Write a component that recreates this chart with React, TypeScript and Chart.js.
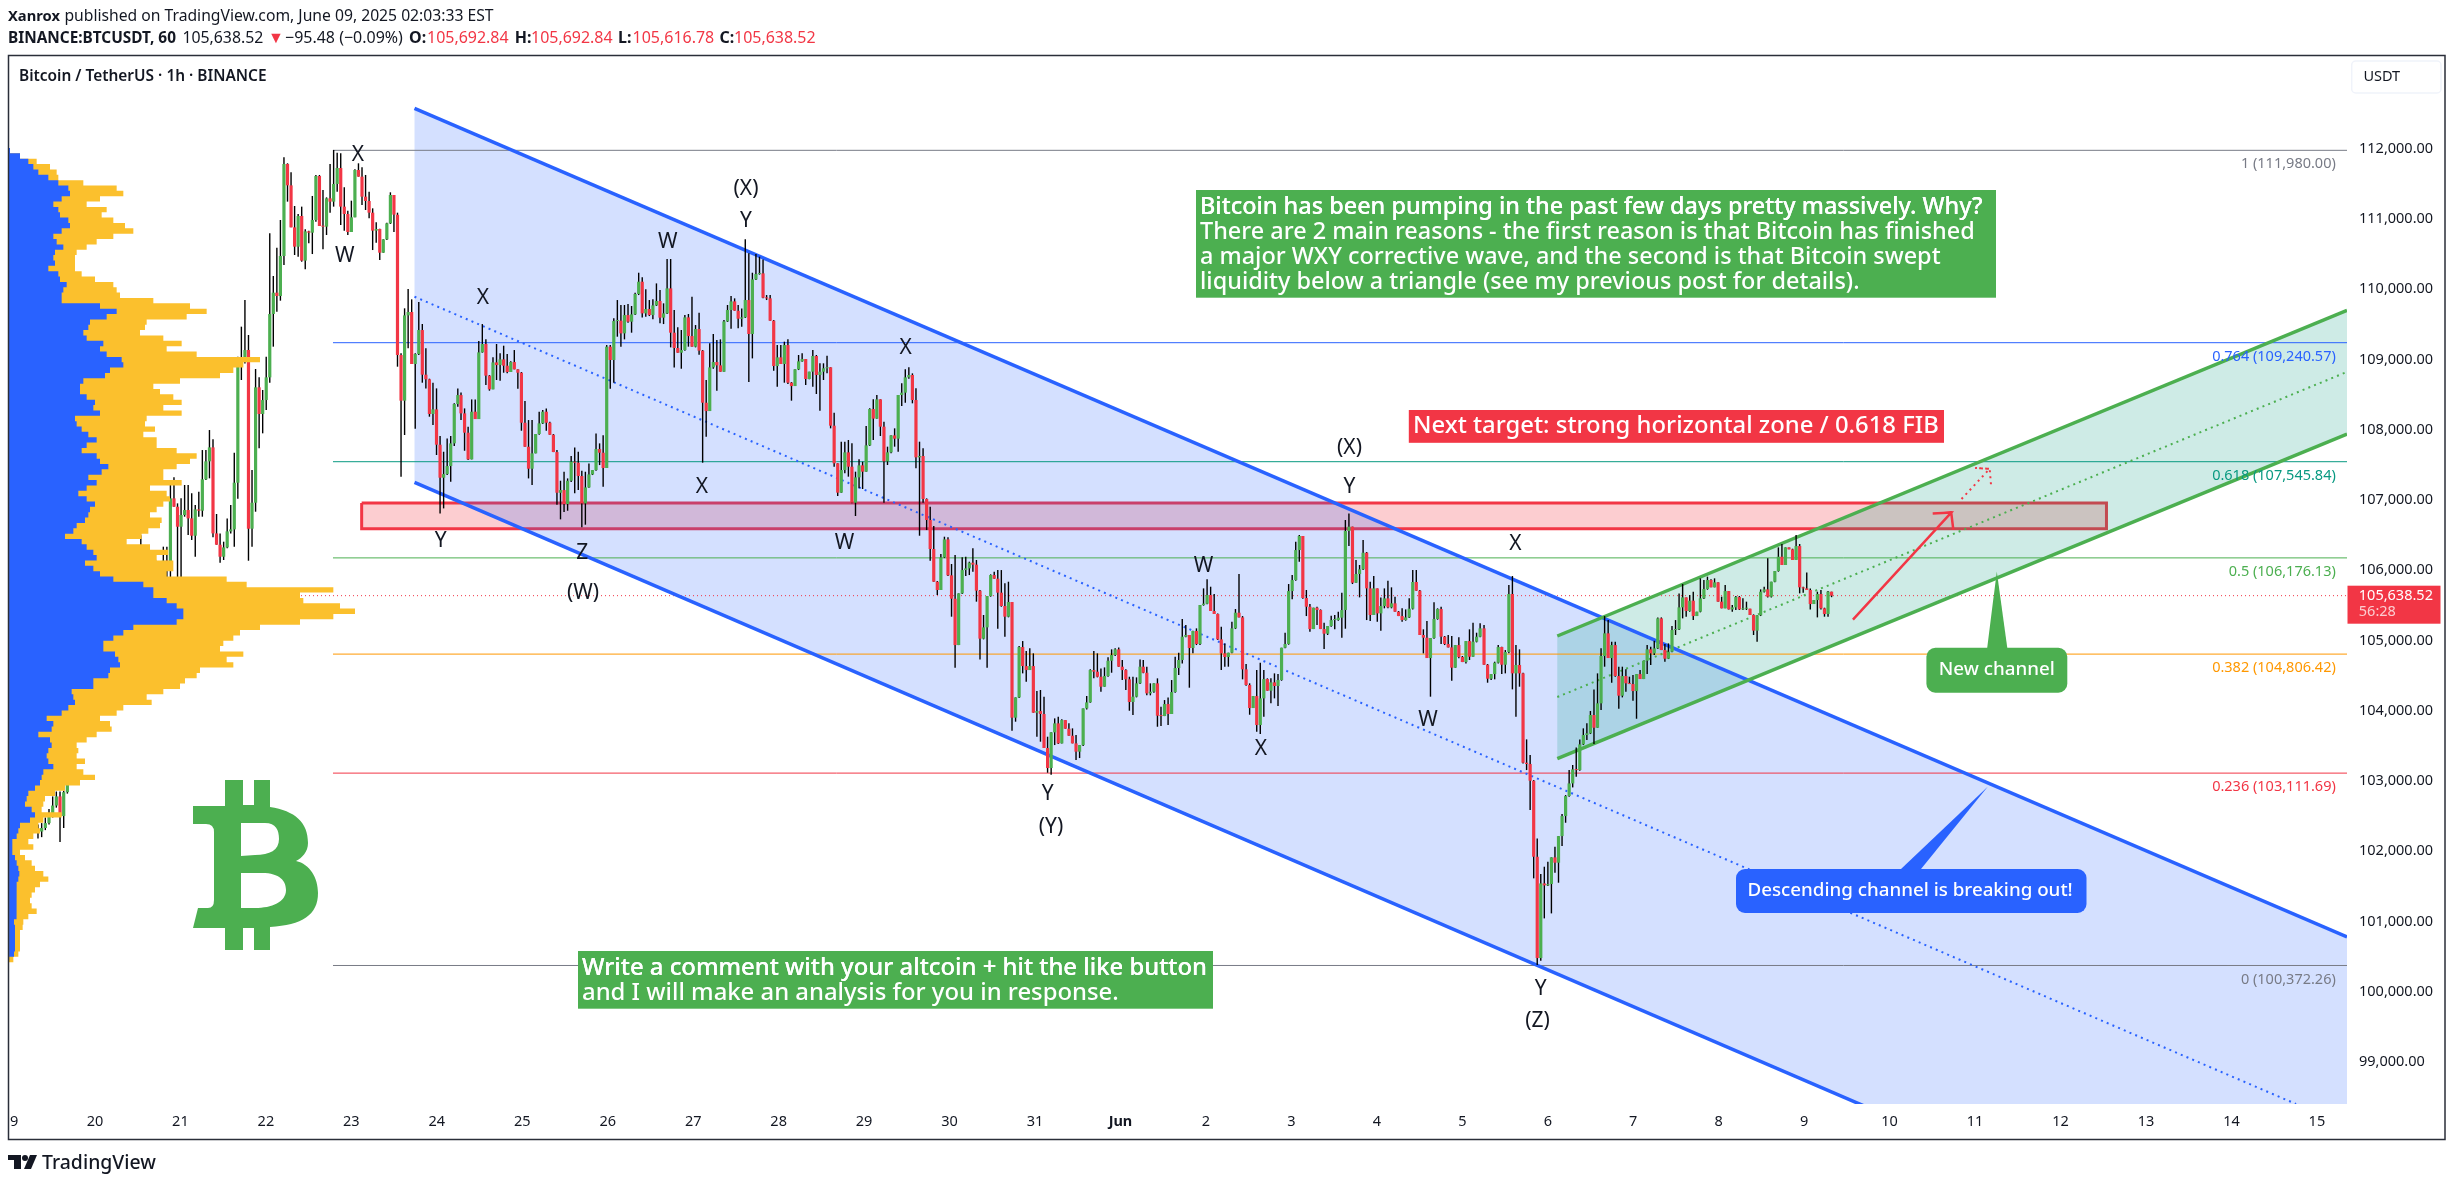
import React, { useEffect, useRef } from "react";
import { Chart, registerables } from "chart.js";

Chart.register(...registerables);

// ---------- candles (1h closes / highs / lows) ----------
const closesEarly = [102280,102330,102400,102500,102650,102780,102500,102840,103300,103800,104200,104500,104300,104800,105100,105300,105000,105400,105700,105500,105800,106000,105700,105500,105800,106100,105900,106100,106300,106000,105800,106000,105950];
const highsEarly = [102380,102400,102480,102600,102780,102850,102850,102860,103500,104000,104400,104700,104600,105000,105300,105500,105400,105600,105900,105800,106000,106200,106000,105800,106000,106300,106200,106300,106500,106350,106100,106200,106150];
const lowsEarly = [102180,102200,102300,102380,102480,102620,102130,102330,102820,103250,103700,104100,104100,104250,104750,105000,104900,104950,105350,105350,105450,105750,105550,105350,105450,105750,105750,105850,106050,105900,105650,105750,105800];

const closesA = [106136,105999,107024,106905,106620,106787,106858,106739,106492,106867,
106848,107295,107551,107750,106525,106364,106193,106326,106554,106582,
107247,109003,108965,109136,106592,106962,108605,108225,108424,108747,
109649,109953,109905,110475,111785,111481,110883,110608,111045,110409,
110826,110807,110988,111614,110902,110893,111296,111249,111500,111728,
111178,111073,110817,111026,111700,111605,111320,111258,111092,110836,
110860,110522,110712,110940,111344,111064,109065,108415,109630,109678,
108937,109079,109421,108785,108719,108225,108291,107788,107318,107370,
107484,107807,108367,108495];
const highsA = [106336,106336,107237,107323,106953,107024,107214,107214,107095,106929,
107119,107712,107712,107997,107864,106801,106525,106407,106739,106929,
107674,109041,109469,109848,109350,107427,108866,108747,108567,109041,
110798,110190,110594,110988,111880,111795,111667,111187,111073,111178,
110855,110836,111330,111629,111629,111415,111310,111785,111985,111947,
111937,111453,111121,111263,111709,111795,111738,111629,111391,111154,
110954,110864,110712,110950,111382,111344,111092,109089,109730,110005,
109858,109089,109820,109507,109160,108728,108671,108590,107912,107688,
107878,107912,108377,108590];
const lowsA = [105900,105900,105900,106905,105900,105900,106763,106502,106430,106193,
106763,106763,107285,107309,106469,106364,106108,106146,106312,106525,
106336,107019,108709,108946,106136,106336,106834,107736,107950,108282,
108671,109184,109682,109839,110347,111249,110883,110489,110466,110394,
110285,110655,110503,110964,110902,110570,110774,111092,111178,111391,
110916,110836,110774,110817,111026,111605,111201,111130,111011,110560,
110665,110418,110522,110703,110931,110817,108899,107332,107926,109160,
108937,108016,109065,108671,108590,108187,108068,107641,106810,106881,
107356,107261,107769,108329];

const closesB = [108234,107959,107579,108258,108153,109103,109222,108771,108576,108960,
108922,109003,108913,108823,108965,108861,108813,108101,107759,107446,
107665,107940,108092,108258,108101,107930,107683,107104,107142,106943,
107275,107546,107532,107342,106952,107180,107365,107427,107726,107674,
107456,109184,108994,109549,109554,109373,109634,109540,109644,109934,
110109,109658,109720,109634,109772,109834,109597,109658,110014,109383,
109165,109098,109136,109601,109335,109184,109435,109127,108386,108267,
108889,108965,108918,108827,109544,109706,109829,109696,109582,109601,
109848,109364,110142,110218,110228,109881,109872,109554,108908,109032,
108937,109207,108671,108623,108861,108975];
const highsB = [108533,108305,108044,108433,108433,109264,109506,109288,108780,109032,
109222,109089,109198,109079,108975,109136,108861,108823,108410,108139,
108139,107940,108258,108282,108305,108115,107940,107712,107275,107403,
107308,107627,107750,107688,107418,107403,107522,107427,107949,107807,
107921,109207,109207,109587,109848,109777,109777,109791,109763,109953,
110237,110171,110000,109848,109858,110085,109990,109801,110432,110432,
109706,109459,109421,109634,109649,109896,109492,109668,109136,108709,
109231,109364,109278,109288,109563,109777,109905,109872,109777,109729,
110712,110513,110237,110503,110465,110427,109919,109919,109563,109207,
109207,109255,109288,108680,108861,109065];
const lowsB = [108139,107702,107570,107584,108153,108153,109098,108638,108557,108581,
108709,108699,108813,108804,108823,108861,108585,107987,107759,107308,
107213,107665,107930,108082,107987,107930,107683,106933,106725,106829,
106848,107256,107095,107142,106611,106649,107176,107356,107418,107498,
107190,107456,108585,108671,109326,109184,109288,109525,109383,109634,
109919,109601,109611,109620,109573,109763,109516,109506,109649,109174,
108889,109098,108870,109127,109184,109184,109174,109070,107532,107902,
108267,108870,108557,108827,108827,109535,109440,109696,109445,109468,
109592,108680,109017,110133,110209,109872,109848,109554,108842,108614,
108937,108671,108652,108415,108623,108851];

const closesC = [109008,108724,108828,109051,108781,108828,108876,108890,108059,107523,
107105,107428,107679,107475,106962,107323,107494,107404,107779,108296,
108159,108434,108045,107551,107679,107921,107874,108496,108529,108747,
108781,108425,107608,107627,107015,106716,106303,105837,105719,106184,
106440,105928,105595,104935,105671,106003,106027,106108,106080,105709,
105026,105187,105633,105932,105880,105681,105491,105339,105548,103901,
104190,104907,104636,104579,104636,103972,103995,103953,103469,103184,
103692,103820,103535,103867,103744,103644,103535,103417,103511,104033,
104119,104579,104556,104484,104342,104494,104712,104793,104874,104627,
104579,104447,104124,104200,104390,104627];
const highsC = [109089,109008,108828,109137,109065,108947,108947,109056,108890,108244,
107523,107831,107831,107855,107807,107404,107580,107546,108054,108306,
108434,108496,108434,108116,107760,107921,108021,108496,108662,108861,
108890,108804,108591,107831,107736,107024,106906,106630,105847,106231,
106478,106469,106089,106217,105671,106184,106193,106122,106312,106146,
105719,105363,105633,105942,105980,106003,106003,105814,105837,105548,
104190,104921,104992,104850,104888,104817,104280,104295,104200,103630,
103692,103891,103915,103877,103867,103820,103749,103654,103511,104033,
104209,104589,104850,104817,104603,104617,104760,104874,104888,104902,
104722,104589,104484,104484,104475,104731];
const lowsC = [108970,108638,108719,108614,108510,108273,108709,108804,108021,107475,
107057,107105,107380,107333,106953,106773,107167,107157,107404,107769,
107855,108159,107912,106962,107499,107665,107760,107689,108339,108387,
108728,108377,107451,106492,106962,106573,106136,105837,105648,105719,
106174,105918,105339,104613,104935,105662,105918,105932,105980,105553,
104731,105016,104613,105624,105880,105168,105481,105054,105330,103716,
103844,104181,104532,104413,104579,103972,103630,103559,103469,103117,
103089,103511,103526,103535,103744,103644,103535,103298,103326,103497,
104019,104114,104461,104475,104271,104342,104484,104541,104779,104627,
104437,104295,104000,103939,104190,104380];

const closesD = [104541,104247,104271,104390,103929,103924,104095,103953,104266,104608,
104722,105054,105078,104893,105135,104950,105505,105524,105648,105420,
105377,105016,104817,104765,104826,105173,105396,105329,104589,104366,
104038,104209,103796,104176,104451,104285,104404,104352,104437,104897,
104950,105704,105861,106288,106488,105605,105481,105163,105467,105434,
105163,105097,105206,105291,105291,105325,105434,106559,106621,105823,
105947,106013,106250,105742,105363,105742,105386,105491,105600,105472,
105529,105410,105348,105291,105329,105453,105833,105709,105078,105040,
104750,105035,105306,105448,105054,104950,104902,104613,104935,104765,
104693,104992,104769,104983,105054,105173];
const highsD = [104722,104627,104390,104390,104461,104057,104152,104190,104437,104769,
104826,105306,105220,105078,105140,105173,105505,105742,105871,105766,
105662,105386,105197,104959,104826,105268,105448,105947,105348,104665,
104390,104209,104579,104684,104579,104461,104461,104532,104522,104897,
105111,105804,105932,106407,106502,106488,105719,105519,105467,105481,
105443,105254,105206,105353,105363,105410,105681,106716,106810,106621,
106146,106075,106431,106260,105837,105918,105742,105614,105742,105852,
105757,105624,105420,105458,105443,105600,106003,106003,105719,105159,
105277,105035,105543,105458,105481,105064,105078,105064,104935,105045,
104779,104992,105159,105254,105111,105244];
const lowsD = [104532,104219,104219,104257,103772,103782,103924,103796,103953,104257,
104508,104674,105045,104328,104817,104935,104935,105496,105515,105420,
105377,105007,104579,104627,104627,104817,105163,105329,104447,104356,
103943,104038,103701,103668,103915,104285,104105,104176,104067,104427,
104888,104940,105586,105852,106122,105595,105348,105125,105163,105220,
105163,104878,105078,105197,105159,105282,105040,105168,106345,105804,
105823,105614,106003,105291,105277,105363,105268,105140,105458,105458,
105458,105410,105348,105268,105282,105320,105443,105709,105078,104817,
104750,104200,105026,105296,104950,104935,104902,104427,104613,104746,
104693,104674,104722,104769,104973,105045];

const closesE = [104655,104456,104522,104684,104907,104655,104836,105662,104532,104651,
104532,103260,103241,103003,101921,100478,101541,101513,101532,101912,
101836,102215,102500,102785,102965,103165,103155,103521,103654,103678,
103939,103758,104105,104779,105102,104750,104935,104494,104214,104494,
104390,104380,104280,104522,104451,104712,104874,104817,104888,105315,
104864,104741,104840,105149,105159,105472,105614,105420,105567,105348,
105410,105600,105733,105861,105757,105828,105553,105458,105704,105443,
105472,105619,105443,105453,105453,105363,105140,105358,105695,105728,
105624,105837,105989,106193,106075,106326,106298,106146,106345,105757,
105742,105719,105519,105576,105662,105458,105377,105695,105638.52];
const highsE = [105220,104665,104522,104698,104935,104912,104864,105790,105918,104935,
104874,104541,103592,103369,103013,102182,101674,101779,101850,101912,
102064,102215,102529,102799,103155,103227,103478,103592,103749,103820,
103996,104304,104532,104888,105348,105291,104983,104983,104627,104627,
104589,104485,104508,104522,104579,104712,104935,104912,104997,105329,
105329,104950,104959,105206,105291,105671,105804,105614,105648,105695,
105410,105885,105861,105909,105871,105885,105828,105624,105790,105704,
105505,105633,105633,105600,105553,105443,105372,105358,105728,105766,
106170,105837,105989,106326,106374,106326,106326,106307,106502,106374,
105766,105970,105742,105576,105695,105719,105467,105704,105692.84];
const lowsE = [104655,104399,104437,104447,104674,104522,104532,104817,104304,103915,
104342,103250,103155,102586,101613,100378,100440,101043,101503,101114,
101693,101551,102073,102405,102776,102908,103060,103146,103511,103582,
103668,103526,103758,104010,104627,104750,104399,104485,104029,104190,
104271,104380,104143,103886,104451,104451,104522,104651,104793,104878,
104864,104698,104736,104831,105078,105149,105315,105339,105410,105291,
105348,105401,105591,105723,105757,105757,105553,105458,105458,105443,
105410,105434,105434,105434,105434,105363,105078,104983,105348,105685,
105614,105614,105828,105980,106075,106075,106298,106146,106146,105671,
105681,105719,105443,105519,105329,105443,105339,105339,105616.78];

// first and last hour (since 19 May 00:00) of each run of candles above
const runHours = [[8,41],[43.2,125.9],[126.8,221.6],[222.6,317.5],[318.4,413],[414.1,511.7]];

// ---------- visible-range volume profile (row volumes, top row first) ----------
const profileTopPrice = 111975;
const profileRowSize = 76.27;
const profileUpVolume = [30,60,85,100,115,145,175,205,210,185,160,175,180,205,210,185,160,170,190,165,160,165,145,175,180,200,190,185,185,300,350,320,270,265,250,260,310,300,320,365,370,330,315,250,240,240,260,285,280,300,225,230,245,265,290,260,245,290,300,325,305,265,290,260,235,260,285,270,265,255,230,220,195,245,260,280,290,255,280,300,340,430,460,460,500,530,550,550,530,400,370,340,310,310,345,355,360,330,325,280,280,215,220,225,205,185,140,160,155,115,150,155,145,140,145,160,130,125,120,105,85,80,75,95,105,90,60,55,50,37,37,37,45,50,55,58,55,50,50,50,50,50,48,50,42,45,45,45,45,45,42,28];
const profileTotalVolume = [30,60,110,150,170,175,250,350,370,300,260,320,305,340,375,400,340,290,260,230,225,225,225,245,285,340,350,360,460,570,620,560,440,435,420,490,545,500,590,780,730,700,660,540,460,480,520,545,490,545,440,435,465,430,470,470,530,590,570,530,490,490,545,450,500,510,490,470,450,485,480,445,425,380,450,505,470,520,520,500,680,740,1000,900,910,1020,1065,1000,900,780,720,700,670,660,730,680,700,600,590,555,540,490,440,455,370,350,300,330,335,290,260,230,235,230,255,230,250,285,240,195,165,135,130,125,185,130,115,120,100,85,100,60,75,95,105,130,145,120,105,95,90,95,110,85,70,68,60,60,60,60,55,40];
const profileBaseVolume = 27;

// ---------- drawings, in (hour since 19 May, price) ----------
const blueChannelUpper = [[113.74,112578],[656.45,100778]];
const blueChannelLower = [[113.74,107253],[656.45,95414]];
const blueChannelMiddle = [[113.74,109895],[642.14,98400]];
const greenChannelUpper = [[434.68,105064],[656.45,109702]];
const greenChannelLower = [[434.68,103317],[656.45,107940]];
const greenChannelMiddle = [[434.68,104195],[656.45,108825]];
const redZone = [[98.9,106958],[588.9,106958],[588.9,106593],[98.9,106593],[98.9,106958]];
const redArrow = [[517.7,105298],[545.3,106822],[540.1,106810],[545.3,106822],[545.9,106574]];
const redDottedArrow = [[548.2,107015],[556.1,107445],[552,107456],[556.1,107445],[556.5,107204]];

const fibPrices = [111980, 109240.57, 107545.84, 106176.13, 104806.42, 103111.69, 100372.26];
const fibLabels = ["1 (111,980.00)", "0.764 (109,240.57)", "0.618 (107,545.84)", "0.5 (106,176.13)", "0.382 (104,806.42)", "0.236 (103,111.69)", "0 (100,372.26)"];
const fibColors = ["#787b86", "#2962ff", "#089981", "#4caf50", "#ff9800", "#f23645", "#787b86"];
const fibStartHour = 90.85;
const lastPrice = 105638.52;

const priceTicks = [99000,100000,101000,102000,103000,104000,105000,106000,107000,108000,109000,110000,111000,112000];
const dayLabels = ["9","20","21","22","23","24","25","26","27","28","29","30","31","Jun","2","3","4","5","6","7","8","9","10","11","12","13","14","15"];
const dayHours = [1.3,24,48,72,96,120,144,168,192,216,240,264,288,312,336,360,384,408,432,456,480,504,528,552,576,600,624,648];

const waveLabels: [string, number, number][] = [
  ["X",358,155],["W",344.7,255.7],["X",482.8,298.3],["(X)",746,189],["Y",746,220.7],["W",667.7,241.7],
  ["X",905.6,348.3],["X",702,486.7],["Y",440.7,540.7],["Z",582.3,553],["(W)",583,593],["W",844.4,543],
  ["Y",1047.8,794],["(Y)",1051,826.8],["W",1203.4,566.5],["X",1260.8,749],["(X)",1349.5,448.5],["Y",1349.5,486.8],
  ["W",1428,719.6],["X",1515.3,544],["Y",1540.8,989],["(Z)",1537.6,1020.6],
];
const noteTop = ["Bitcoin has been pumping in the past few days pretty massively. Why?","There are 2 main reasons - the first reason is that Bitcoin has finished","a major WXY corrective wave, and the second is that Bitcoin swept","liquidity below a triangle (see my previous post for details)."];
const noteBottom = ["Write a comment with your altcoin + hit the like button","and I will make an analysis for you in response."];

const GREEN = "#4caf50";
const RED = "#f23645";
const BLUE = "#2962ff";
const INK = "#131722";
const FONT = '"Noto Sans"';

const closeRuns = [closesEarly, closesA, closesB, closesC, closesD, closesE];
const closes = closeRuns.flat();
const highs = [highsEarly, highsA, highsB, highsC, highsD, highsE].flat();
const lows = [lowsEarly, lowsA, lowsB, lowsC, lowsD, lowsE].flat();
const hours = closeRuns.flatMap((run, r) =>
  run.map((_, j) => runHours[r][0] + (j * (runHours[r][1] - runHours[r][0])) / (run.length - 1))
);

const pts = (a: number[][]) => a.map(([x, y]) => ({ x, y }));

function text(ctx: any, s: string, x: number, y: number, o: any = {}) {
  const weight = o.weight || "400";
  let size = o.size || 15;
  ctx.font = `${weight} ${size}px ${FONT}`;
  if (o.fit) {
    size = (size * o.fit) / ctx.measureText(s).width;
    ctx.font = `${weight} ${size}px ${FONT}`;
  }
  ctx.fillStyle = o.color || INK;
  ctx.textAlign = o.align || "left";
  ctx.textBaseline = "middle";
  ctx.fillText(s, x, y);
  return size;
}

function roundBox(ctx: any, x0: number, y0: number, x1: number, y1: number, r: number, color: string, tail?: number[]) {
  ctx.fillStyle = color;
  ctx.beginPath();
  ctx.roundRect(x0, y0, x1 - x0, y1 - y0, r);
  ctx.fill();
  if (tail) {
    ctx.beginPath();
    ctx.moveTo(tail[0], tail[1]);
    ctx.lineTo(tail[2], tail[3]);
    ctx.lineTo(tail[4], tail[5]);
    ctx.closePath();
    ctx.fill();
  }
}

function bitcoinMark(ctx: any) {
  ctx.fillStyle = GREEN;
  ctx.beginPath();
  ctx.moveTo(225, 780);
  ctx.lineTo(243, 780);
  ctx.lineTo(243, 805);
  ctx.lineTo(254, 805);
  ctx.lineTo(254, 780);
  ctx.lineTo(270, 780);
  ctx.lineTo(270, 807);
  ctx.bezierCurveTo(295, 811, 308, 822, 308, 843);
  ctx.bezierCurveTo(308, 852, 302, 858, 296, 861);
  ctx.bezierCurveTo(310, 864, 318, 878, 318, 893);
  ctx.bezierCurveTo(318, 915, 302, 925, 270, 927);
  ctx.lineTo(270, 950);
  ctx.lineTo(254, 950);
  ctx.lineTo(254, 928);
  ctx.lineTo(243, 928);
  ctx.lineTo(243, 950);
  ctx.lineTo(225, 950);
  ctx.lineTo(225, 928);
  ctx.lineTo(193, 928);
  ctx.lineTo(198, 908);
  ctx.lineTo(208, 908);
  ctx.quadraticCurveTo(214, 908, 214, 900);
  ctx.lineTo(214, 832);
  ctx.quadraticCurveTo(214, 824, 206, 824);
  ctx.lineTo(193, 824);
  ctx.lineTo(193, 806);
  ctx.lineTo(225, 806);
  ctx.closePath();
  ctx.moveTo(241, 823);
  ctx.lineTo(265, 823);
  ctx.bezierCurveTo(276, 823, 279, 830, 279, 839);
  ctx.bezierCurveTo(279, 850, 270, 855, 255, 855);
  ctx.lineTo(241, 856);
  ctx.closePath();
  ctx.moveTo(241, 873);
  ctx.lineTo(262, 873);
  ctx.bezierCurveTo(280, 873, 286, 881, 286, 890);
  ctx.bezierCurveTo(286, 902, 272, 908, 255, 908);
  ctx.lineTo(241, 908);
  ctx.closePath();
  ctx.fill("evenodd");
}

const overlay = {
  id: "overlay",
  afterDraw(chart: any) {
    const ctx = chart.ctx;
    const yS = chart.scales.y;
    ctx.save();

    // wave labels
    waveLabels.forEach(([s, x, y]) => text(ctx, s, x, y, { size: 21, align: "center" }));

    // fib labels
    fibLabels.forEach((s, i) => text(ctx, s, 2335.8, yS.getPixelForValue(fibPrices[i]) + 14, { size: 14.5, color: fibColors[i], align: "right" }));

    // top note
    ctx.fillStyle = GREEN;
    ctx.fillRect(1196, 190, 800, 107.7);
    const sz = text(ctx, noteTop[0], 1200, 207, { size: 22, weight: "500", color: "#fff", fit: 783 });
    noteTop.forEach((s, i) => text(ctx, s, 1200, 207 + i * 25, { size: sz, weight: "500", color: "#fff" }));

    // bottom note
    ctx.fillStyle = GREEN;
    ctx.fillRect(578, 951, 635, 57.7);
    const sz2 = text(ctx, noteBottom[0], 582, 968, { size: 22, weight: "500", color: "#fff", fit: 625 });
    noteBottom.forEach((s, i) => text(ctx, s, 582, 968 + i * 25.4, { size: sz2, weight: "500", color: "#fff" }));

    // target note
    ctx.fillStyle = RED;
    ctx.fillRect(1408.8, 410, 535.2, 32.8);
    text(ctx, "Next target: strong horizontal zone / 0.618 FIB", 1413, 426, { size: 22, weight: "500", color: "#fff", fit: 526 });

    // call-outs
    roundBox(ctx, 1926.4, 647.8, 2067.3, 692.7, 9, GREEN, [1996.8, 571.4, 1987.2, 648, 2007.3, 648]);
    text(ctx, "New channel", 1996.8, 670, { size: 18, weight: "500", color: "#fff", align: "center", fit: 116 });
    roundBox(ctx, 1736, 869, 2086.5, 913, 9, BLUE, [1987.7, 786.8, 1901, 869, 1921, 869]);
    text(ctx, "Descending channel is breaking out!", 1747.5, 891, { size: 18, weight: "500", color: "#fff", fit: 325.5 });

    bitcoinMark(ctx);

    // last price tag
    ctx.fillStyle = RED;
    ctx.fillRect(2347.5, 585.7, 93, 38);
    text(ctx, "105,638.52", 2358.8, 595.5, { size: 14.5, color: "#fff" });
    text(ctx, "56:28", 2358.8, 612, { size: 14.5, color: "rgba(255,255,255,0.75)" });

    // currency button
    ctx.strokeStyle = "#f0f3fa";
    ctx.lineWidth = 1.5;
    ctx.beginPath();
    ctx.roundRect(2351.7, 61, 89.3, 32, 4);
    ctx.stroke();
    text(ctx, "USDT", 2363.4, 77, { size: 14.5 });

    // frame
    ctx.strokeStyle = "#2a2e39";
    ctx.lineWidth = 1.5;
    ctx.strokeRect(8.5, 55.5, 2436.5, 1084);

    // header
    text(ctx, "Xanrox", 8, 17, { size: 16, weight: "700", fit: 52 });
    text(ctx, "published on TradingView.com, June 09, 2025 02:03:33 EST", 64.4, 17, { size: 16, fit: 429.6 });
    text(ctx, "BINANCE:BTCUSDT, 60", 8, 38.3, { size: 16, weight: "700", fit: 168 });
    text(ctx, "105,638.52", 182.4, 38.3, { size: 16, fit: 81 });
    text(ctx, "\u25BC", 268, 38.3, { size: 16, color: RED });
    text(ctx, "\u221295.48 (\u22120.09%)", 285, 38.3, { size: 16, fit: 118 });
    const ohlc: [string, number, string, number][] = [["O:",409,"105,692.84",427],["H:",514.7,"105,692.84",531],["L:",618,"105,616.78",632.6],["C:",719.4,"105,638.52",734]];
    ohlc.forEach(([k, kx, v, vx]) => {
      text(ctx, k, kx, 38.3, { size: 16, weight: "700" });
      text(ctx, v, vx, 38.3, { size: 16, color: RED, fit: 81.7 });
    });
    text(ctx, "Bitcoin / TetherUS \u00B7 1h \u00B7 BINANCE", 19, 76.7, { size: 15, weight: "600", fit: 247.6 });

    // TradingView wordmark
    ctx.fillStyle = INK;
    ctx.fillRect(8, 1155, 13, 5);
    ctx.fillRect(14, 1155, 7, 14);
    ctx.beginPath();
    ctx.arc(25, 1158, 3, 0, Math.PI * 2);
    ctx.fill();
    ctx.beginPath();
    ctx.moveTo(30, 1155);
    ctx.lineTo(37, 1155);
    ctx.lineTo(31, 1169);
    ctx.lineTo(24, 1169);
    ctx.closePath();
    ctx.fill();
    text(ctx, "TradingView", 42, 1163, { size: 20, weight: "500", fit: 114 });

    ctx.restore();
  },
};

export default function App() {
  const ref = useRef<HTMLCanvasElement>(null);
  useEffect(() => {
    const opens = closes.map((c, i) => (i === 0 ? c : closes[i - 1]));
    const bodies = closes.map((c, i) => ({ x: hours[i], y: [Math.min(opens[i], c), Math.max(opens[i], c)] }));
    const wicks = closes.map((c, i) => ({
      x: hours[i],
      y: [Math.min(lows[i] ?? c, opens[i], c), Math.max(highs[i] ?? c, opens[i], c)],
    }));
    const bodyColors = closes.map((c, i) => (c >= opens[i] ? GREEN : RED));

    const profilePolygon = (vols: number[]) => {
      const out: { x: number; y: number }[] = [{ x: profileBaseVolume, y: profileTopPrice + profileRowSize / 2 }];
      vols.forEach((v, i) => {
        const top = profileTopPrice - i * profileRowSize + profileRowSize / 2;
        out.push({ x: v, y: top }, { x: v, y: top - profileRowSize });
      });
      out.push({ x: profileBaseVolume, y: profileTopPrice - vols.length * profileRowSize + profileRowSize / 2 });
      return out;
    };

    const line = (data: any[], color: string, width: number, order: number, extra: any = {}) => ({
      type: "line",
      data: pts(data),
      borderColor: color,
      borderWidth: width,
      pointRadius: 0,
      tension: 0,
      fill: false,
      order,
      ...extra,
    });
    const shape = (data: any[], color: string, order: number, extra: any = {}) => ({
      type: "line",
      data,
      borderWidth: 0,
      borderColor: "transparent",
      backgroundColor: color,
      pointRadius: 0,
      tension: 0,
      fill: "shape",
      order,
      ...extra,
    });

    const blueFill = pts([blueChannelUpper[0], blueChannelUpper[1], blueChannelLower[1], blueChannelLower[0]]);
    const greenFill = pts([greenChannelUpper[0], greenChannelUpper[1], greenChannelLower[1], greenChannelLower[0]]);
    const xMax = 656.45;

    const chart = new Chart(ref.current as any, {
      type: "bar",
      data: {
        datasets: [
          shape(pts(redZone), "rgba(242,54,69,0.25)", 60, { borderColor: RED, borderWidth: 3 }),
          shape(blueFill, "rgba(41,98,255,0.2)", 50),
          shape(greenFill, "rgba(8,153,129,0.2)", 49),
          ...fibPrices.map((p, i) => line([[fibStartHour, p], [xMax, p]], fibColors[i], 1, 45)),
          line([[-0.14, lastPrice], [xMax, lastPrice]], RED, 1, 44, { borderDash: [1, 3] }),
          line(blueChannelUpper, BLUE, 3.5, 40),
          line(blueChannelLower, BLUE, 3.5, 40),
          line(blueChannelMiddle, BLUE, 2, 40, { borderDash: [2, 4.2] }),
          line(greenChannelUpper, GREEN, 3.5, 39),
          line(greenChannelLower, GREEN, 3.5, 39),
          line(greenChannelMiddle, GREEN, 2, 39, { borderDash: [2, 4.2] }),
          { type: "bar", data: wicks, backgroundColor: "#000", grouped: false, barPercentage: 1, categoryPercentage: 1, maxBarThickness: 1.4, inflateAmount: 0, order: 30 },
          { type: "bar", data: bodies, backgroundColor: bodyColors, grouped: false, barPercentage: 1, categoryPercentage: 1, maxBarThickness: 3.2, minBarLength: 1, inflateAmount: 0, order: 29 },
          shape(profilePolygon(profileTotalVolume), "#fbc02d", 20, { xAxisID: "xv" }),
          shape(profilePolygon(profileUpVolume), BLUE, 19, { xAxisID: "xv" }),
          line(redArrow, RED, 2.5, 10),
          line(redDottedArrow, RED, 2, 10, { borderDash: [2, 4] }),
        ] as any,
      },
      options: {
        responsive: false,
        animation: false,
        devicePixelRatio: 1,
        events: [],
        layout: { padding: { top: 56, left: 9, right: 0, bottom: 46 } },
        plugins: { legend: { display: false }, tooltip: { enabled: false } },
        scales: {
          x: {
            type: "linear",
            offset: false,
            min: -0.14,
            max: xMax,
            grid: { display: false, drawTicks: false },
            border: { display: false },
            afterBuildTicks: (s: any) => { s.ticks = dayHours.map((value) => ({ value })); },
            afterFit: (s: any) => { s.height = 36; },
            ticks: {
              autoSkip: false,
              maxRotation: 0,
              padding: 9,
              color: INK,
              font: (c: any) => ({ family: "Noto Sans", size: 14.5, weight: dayLabels[c.index] === "Jun" ? "700" : "400" }),
              callback: (_v: any, i: number) => dayLabels[i],
            },
          },
          xv: { type: "linear", display: false, min: profileBaseVolume, max: profileBaseVolume + 7014, offset: false },
          y: {
            type: "linear",
            position: "right",
            min: 98400,
            max: 113323,
            grid: { display: false, drawTicks: false },
            border: { display: false },
            afterBuildTicks: (s: any) => { s.ticks = priceTicks.map((value) => ({ value })); },
            afterFit: (s: any) => { s.width = 99; },
            ticks: {
              padding: 12,
              color: INK,
              crossAlign: "near",
              font: { family: "Noto Sans", size: 14.5 },
              callback: (v: any) => Number(v).toLocaleString("en-US", { minimumFractionDigits: 2, maximumFractionDigits: 2 }),
            },
          },
        },
      } as any,
      plugins: [overlay],
    });
    return () => chart.destroy();
  }, []);
  return (
    <canvas
      ref={ref}
      width={2446}
      height={1186}
      style={{ position: "fixed", left: 0, top: 0, width: 2446, height: 1186, display: "block", background: "#fff" }}
    />
  );
}
